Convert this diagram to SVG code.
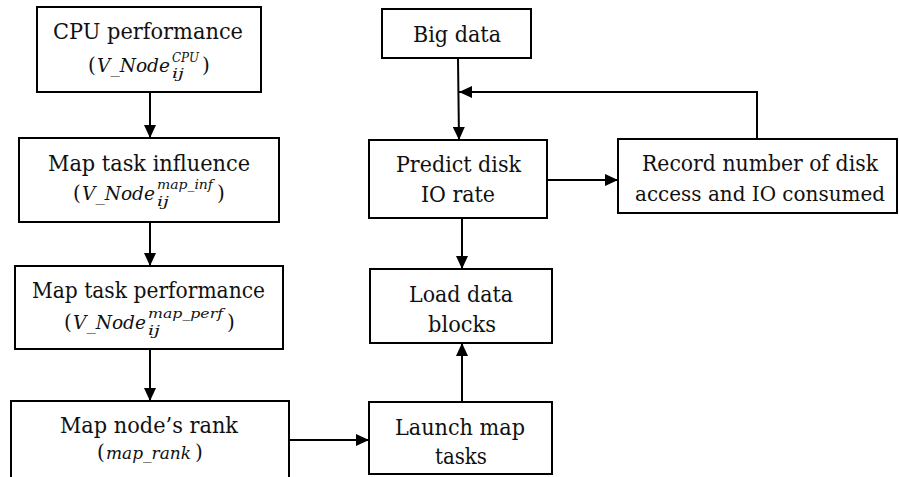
<svg xmlns="http://www.w3.org/2000/svg" width="899" height="477" viewBox="0 0 899 477">
  <style>
    .box { fill: #ffffff; stroke: #000000; stroke-width: 2; }
    text { font-family: 'DejaVu Serif', 'Liberation Serif', serif; fill: #111111; }
    .lbl { font-size: 22px; text-anchor: middle; }
    .eq { font-size: 20px; }
    .it { font-style: italic; font-size: 18px; }
    .sm { font-size: 12px; font-style: italic; }
    .wire { fill: none; stroke: #000000; stroke-width: 2; }
  </style>
  <defs>
    <marker id="arrow" markerUnits="userSpaceOnUse" markerWidth="14" markerHeight="12" refX="13" refY="6" orient="auto">
      <path d="M0,0 L13,6 L0,12 Z" fill="#000000"/>
    </marker>
  </defs>
  <rect width="899" height="477" fill="#ffffff"/>

  <g id="connectors">
    <line class="wire" x1="150" y1="92" x2="150" y2="138" marker-end="url(#arrow)"/>
    <line class="wire" x1="150" y1="222" x2="150" y2="266" marker-end="url(#arrow)"/>
    <line class="wire" x1="150" y1="349" x2="150" y2="401" marker-end="url(#arrow)"/>
    <line class="wire" x1="289" y1="440" x2="369" y2="440" marker-end="url(#arrow)"/>
    <line class="wire" x1="462" y1="402" x2="462" y2="343" marker-end="url(#arrow)"/>
    <line class="wire" x1="462" y1="218" x2="462" y2="269" marker-end="url(#arrow)"/>
    <line class="wire" x1="458" y1="58" x2="459" y2="140" marker-end="url(#arrow)"/>
    <line class="wire" x1="547" y1="180" x2="618" y2="180" marker-end="url(#arrow)"/>
    <polyline class="wire" points="757,139 757,92 459,92" marker-end="url(#arrow)"/>
  </g>

  <g id="cpu-performance">
    <rect class="box" x="37" y="7" width="224" height="85"/>
    <text class="lbl" x="148" y="39" textLength="190" lengthAdjust="spacingAndGlyphs">CPU performance</text>
    <text class="eq"><tspan x="88" y="72">(</tspan><tspan class="it" x="97" y="72" textLength="73" lengthAdjust="spacingAndGlyphs">V_Node</tspan><tspan class="sm" x="172" y="78" textLength="12" lengthAdjust="spacingAndGlyphs">ij</tspan><tspan class="sm" x="172" y="62" textLength="27" lengthAdjust="spacingAndGlyphs">CPU</tspan><tspan x="202" y="72">)</tspan></text>
  </g>

  <g id="map-task-influence">
    <rect class="box" x="19" y="138" width="260" height="84"/>
    <text class="lbl" x="149" y="171" textLength="202" lengthAdjust="spacingAndGlyphs">Map task influence</text>
    <text class="eq"><tspan x="73" y="200">(</tspan><tspan class="it" x="82" y="200" textLength="73" lengthAdjust="spacingAndGlyphs">V_Node</tspan><tspan class="sm" x="157" y="206" textLength="12" lengthAdjust="spacingAndGlyphs">ij</tspan><tspan class="sm" x="157" y="189" textLength="56" lengthAdjust="spacingAndGlyphs">map_inf</tspan><tspan x="217" y="200">)</tspan></text>
  </g>

  <g id="map-task-performance">
    <rect class="box" x="15" y="266" width="268" height="83"/>
    <text class="lbl" x="148.5" y="298" textLength="233" lengthAdjust="spacingAndGlyphs">Map task performance</text>
    <text class="eq"><tspan x="64" y="329">(</tspan><tspan class="it" x="73" y="329" textLength="73" lengthAdjust="spacingAndGlyphs">V_Node</tspan><tspan class="sm" x="148" y="335" textLength="12" lengthAdjust="spacingAndGlyphs">ij</tspan><tspan class="sm" x="148" y="318" textLength="75" lengthAdjust="spacingAndGlyphs">map_perf</tspan><tspan x="227" y="329">)</tspan></text>
  </g>

  <g id="map-node-rank">
    <rect class="box" x="11" y="401" width="278" height="90"/>
    <text class="lbl" x="149" y="433" textLength="178" lengthAdjust="spacingAndGlyphs">Map node’s rank</text>
    <text class="eq"><tspan x="97" y="459">(</tspan><tspan class="it" x="106" y="459" style="font-size:17px" textLength="85" lengthAdjust="spacingAndGlyphs">map_rank</tspan><tspan x="195" y="459">)</tspan></text>
  </g>

  <g id="big-data">
    <rect class="box" x="382" y="9" width="149" height="49"/>
    <text class="lbl" x="457" y="42" textLength="88" lengthAdjust="spacingAndGlyphs">Big data</text>
  </g>

  <g id="predict-disk-io">
    <rect class="box" x="369" y="140" width="178" height="78"/>
    <text class="lbl" x="458.5" y="172" textLength="125" lengthAdjust="spacingAndGlyphs">Predict disk</text>
    <text class="lbl" x="458" y="202" textLength="74" lengthAdjust="spacingAndGlyphs">IO rate</text>
  </g>

  <g id="record-disk-access">
    <rect class="box" x="618" y="139" width="279" height="74"/>
    <text class="lbl" x="760" y="171" textLength="236" lengthAdjust="spacingAndGlyphs">Record number of disk</text>
    <text class="lbl" x="760" y="201" style="font-size:21px" textLength="250" lengthAdjust="spacingAndGlyphs">access and IO consumed</text>
  </g>

  <g id="load-data-blocks">
    <rect class="box" x="370" y="269" width="182" height="74"/>
    <text class="lbl" x="461" y="302" textLength="104" lengthAdjust="spacingAndGlyphs">Load data</text>
    <text class="lbl" x="462" y="332" textLength="68" lengthAdjust="spacingAndGlyphs">blocks</text>
  </g>

  <g id="launch-map-tasks">
    <rect class="box" x="369" y="402" width="183" height="72"/>
    <text class="lbl" x="460" y="435" textLength="130" lengthAdjust="spacingAndGlyphs">Launch map</text>
    <text class="lbl" x="461" y="464" textLength="52" lengthAdjust="spacingAndGlyphs">tasks</text>
  </g>
</svg>
